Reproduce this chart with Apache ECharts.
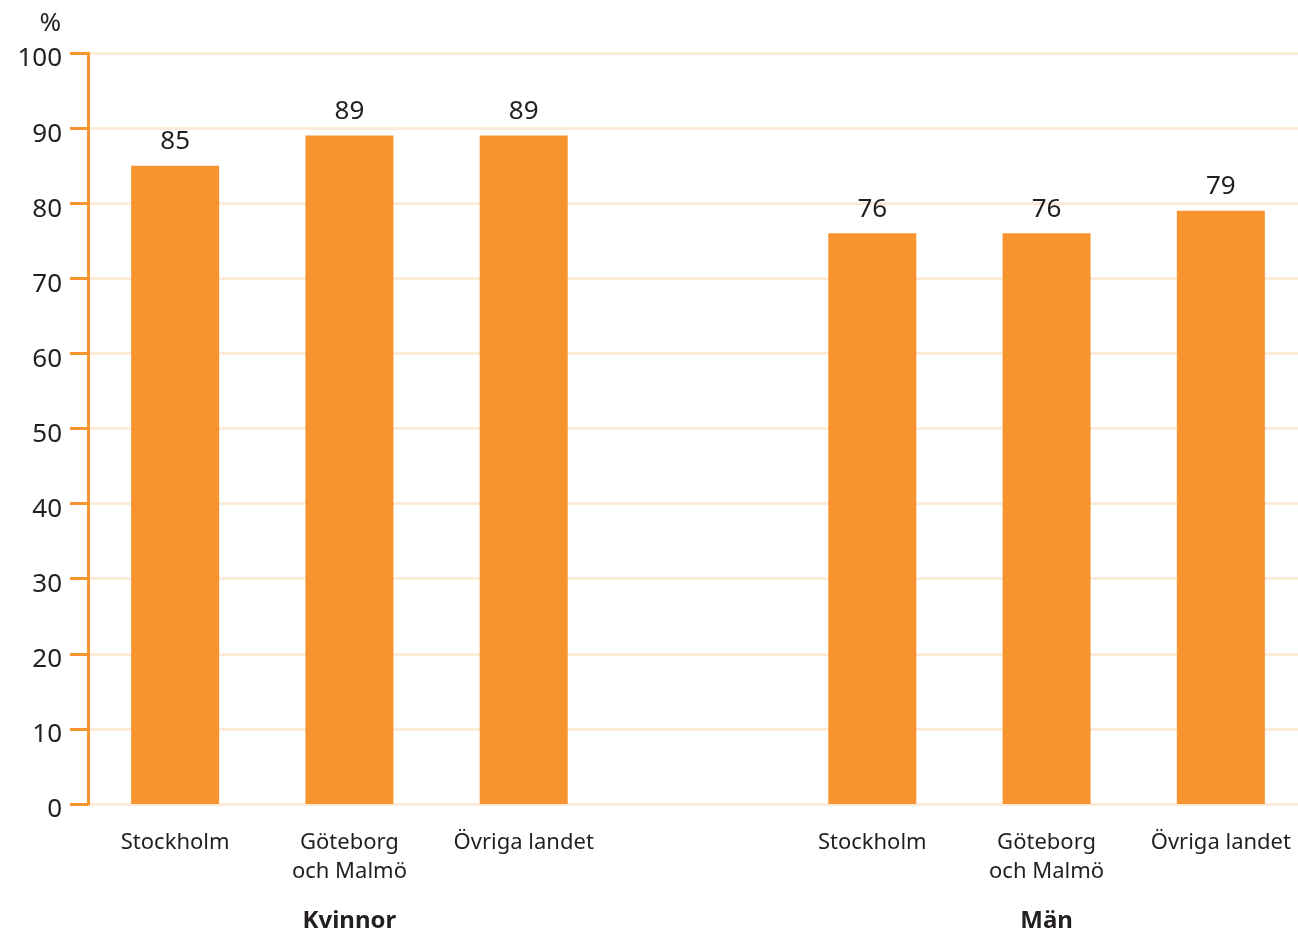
<!DOCTYPE html>
<html><head><meta charset="utf-8">
<script src="https://cdn.jsdelivr.net/npm/echarts@6/dist/echarts.min.js"></script>
<style>html,body{margin:0;padding:0;background:#fff;overflow:hidden}#c{width:1310px;height:933px}</style>
</head><body><div id="c"></div>
<script>
const categories = ['Stockholm', 'Göteborg\noch Malmö', 'Övriga landet', '', 'Stockholm', 'Göteborg\noch Malmö', 'Övriga landet'];
const groupLabels = ['', 'Kvinnor', '', '', '', 'Män', ''];
const values = [85, 89, 89, '-', 76, 76, 79];
const yTicks = [0, 10, 20, 30, 40, 50, 60, 70, 80, 90, 100];

const ORANGE = '#F7942F';
const LIGHT = '#FDEBDA';
const TEXT = '#231F20';
const FONT = '"Noto Sans", sans-serif';

const chart = echarts.init(document.getElementById('c'), null, {renderer: 'canvas'});
chart.setOption({
  animation: false,
  grid: {left: 88, right: 2, top: 53, bottom: 129, containLabel: false},
  xAxis: [{
    type: 'category', data: categories, position: 'bottom',
    axisLine: {show: false}, axisTick: {show: false},
    axisLabel: {color: TEXT, fontFamily: FONT, fontSize: 22, lineHeight: 29, margin: 24, interval: 0}
  }, {
    type: 'category', data: groupLabels, position: 'bottom', offset: 93,
    axisLine: {show: false}, axisTick: {show: false},
    axisLabel: {color: TEXT, fontFamily: FONT, fontSize: 24, fontWeight: 'bold', margin: 12, interval: 0}
  }],
  yAxis: {
    type: 'value', min: yTicks[0], max: yTicks[yTicks.length - 1], interval: 10,
    name: '%', nameLocation: 'end', nameGap: 16,
    nameTextStyle: {color: TEXT, fontFamily: FONT, fontSize: 26, align: 'right', padding: [0, 27, 0, 0]},
    axisLine: {show: true, lineStyle: {color: ORANGE, width: 3}},
    axisTick: {show: true, length: 18, lineStyle: {color: ORANGE, width: 3}},
    axisLabel: {color: TEXT, fontFamily: FONT, fontSize: 26, margin: 26, verticalAlign: 'top', lineHeight: 12},
    splitLine: {show: true, lineStyle: {color: LIGHT, width: 3}}
  },
  series: [{
    type: 'bar', xAxisIndex: 0, data: values, barWidth: 88,
    itemStyle: {color: ORANGE},
    label: {show: true, position: 'top', distance: 11, color: TEXT, fontFamily: FONT, fontSize: 26}
  }]
});
</script></body></html>
